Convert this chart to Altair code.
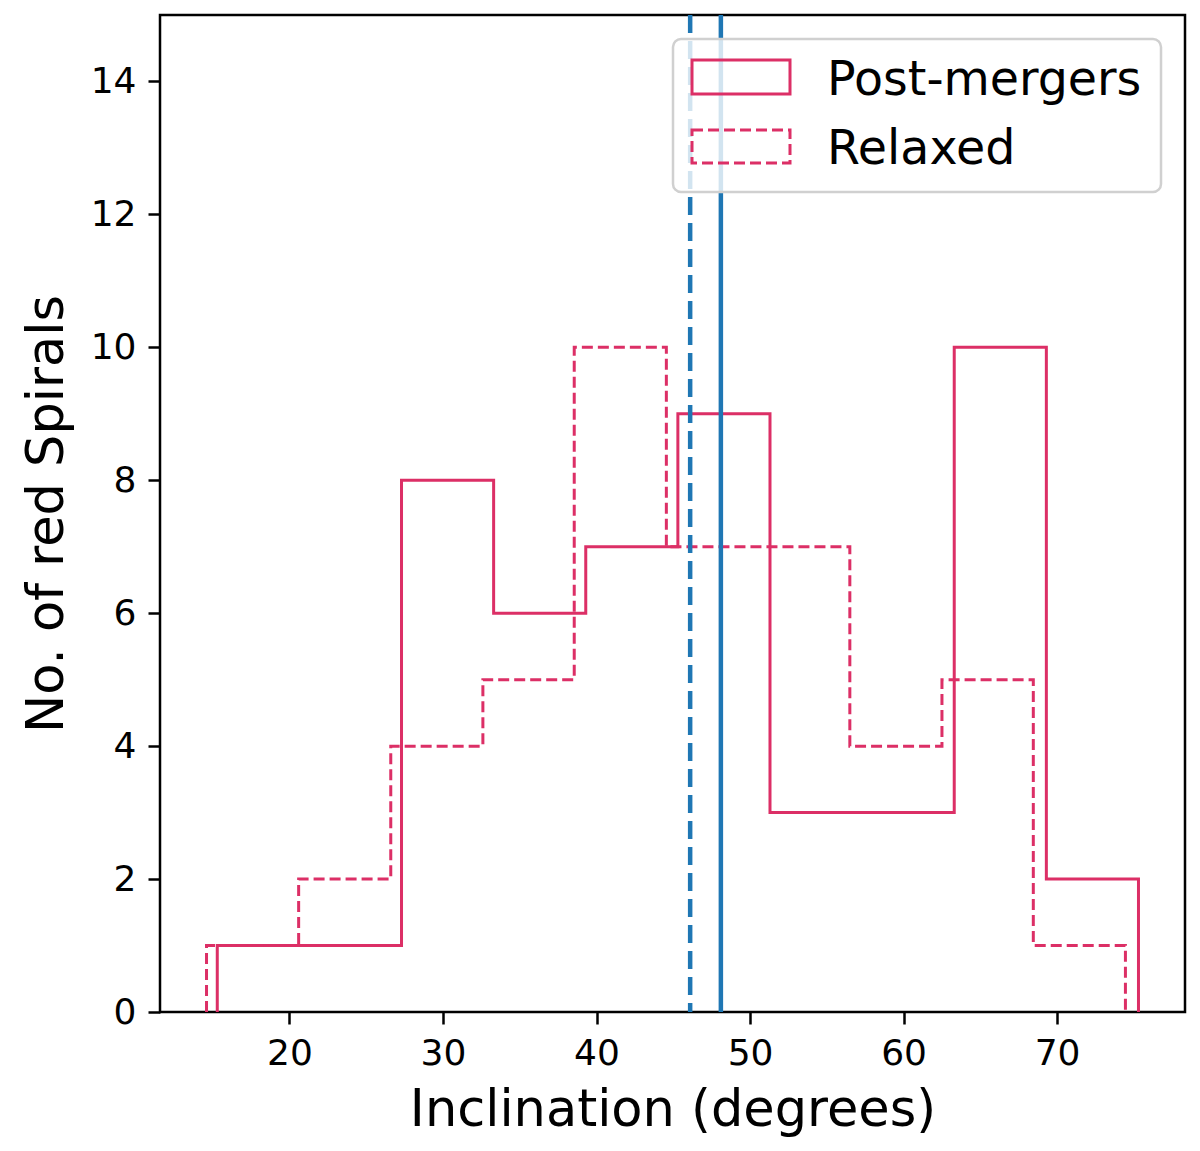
import altair as alt
import pandas as pd

# bin edges and counts
post_edges = [15.3, 21.3, 27.3, 33.3, 39.3, 45.3, 51.3, 57.3, 63.3, 69.3, 75.3]
post_counts = [1, 1, 8, 6, 7, 9, 3, 3, 10, 2]
relaxed_edges = [14.6, 20.6, 26.6, 32.6, 38.55, 44.55, 50.5, 56.5, 62.5, 68.45, 74.45]
relaxed_counts = [1, 2, 4, 5, 10, 7, 7, 4, 5, 1]

# median inclination of each sample (vertical lines)
median_post = [48.1]
median_relaxed = [46.1]

labels = ["Post-mergers", "Relaxed"]
x_ticks = [20, 30, 40, 50, 60, 70]
y_ticks = [0, 2, 4, 6, 8, 10, 12, 14]

PINK = "#dc2f66"
BLUE = "#1f77b4"
FONT = "DejaVu Sans"


def step_outline(edges, counts):
    # corners of a matplotlib histtype='step' outline
    rows = [{"x": edges[0], "y": 0}]
    for i, c in enumerate(counts):
        rows.append({"x": edges[i], "y": c})
        rows.append({"x": edges[i + 1], "y": c})
    rows.append({"x": edges[-1], "y": 0})
    df = pd.DataFrame(rows)
    df["i"] = range(len(df))
    return df


xs = alt.X("x:Q", scale=alt.Scale(domain=[11.57, 78.33], nice=False, zero=False),
           axis=alt.Axis(values=x_ticks, format="d", title="Inclination (degrees)"))
ys = alt.Y("y:Q", scale=alt.Scale(domain=[0, 15], nice=False),
           axis=alt.Axis(values=y_ticks, format="d", title="No. of red Spirals"))

post = alt.Chart(step_outline(post_edges, post_counts)).mark_line(
    color=PINK, strokeWidth=3, strokeJoin="miter", strokeCap="butt"
).encode(xs, ys, order="i:Q")

relaxed = alt.Chart(step_outline(relaxed_edges, relaxed_counts)).mark_line(
    color=PINK, strokeWidth=3, strokeJoin="miter", strokeCap="butt", strokeDash=[11, 5]
).encode(alt.X("x:Q"), alt.Y("y:Q"), order="i:Q")

vline_post = alt.Chart(pd.DataFrame({"x": median_post})).mark_rule(
    color=BLUE, strokeWidth=4.5
).encode(alt.X("x:Q"))

vline_relaxed = alt.Chart(pd.DataFrame({"x": median_relaxed})).mark_rule(
    color=BLUE, strokeWidth=4.5, strokeDash=[18, 8]
).encode(alt.X("x:Q"))

# legend drawn by hand (rectangle patches like matplotlib)
one = pd.DataFrame({"a": [0]})
legend_box = alt.Chart(one).mark_rect(
    fill="white", fillOpacity=0.8, stroke="#d0d0d0", strokeWidth=2.5, cornerRadius=8
).encode(x=alt.value(513), x2=alt.value(1001), y=alt.value(24), y2=alt.value(177))

patch_post = alt.Chart(one).mark_rect(
    fill="white", fillOpacity=0, stroke=PINK, strokeWidth=3
).encode(x=alt.value(532), x2=alt.value(630), y=alt.value(45), y2=alt.value(79))

patch_relaxed = alt.Chart(one).mark_rect(
    fill="white", fillOpacity=0, stroke=PINK, strokeWidth=3, strokeDash=[11, 5]
).encode(x=alt.value(532), x2=alt.value(630), y=alt.value(115), y2=alt.value(148))

text_post = alt.Chart(one).mark_text(
    text=labels[0], font=FONT, fontSize=47.5, align="left", baseline="alphabetic", color="black"
).encode(x=alt.value(667), y=alt.value(80))

text_relaxed = alt.Chart(one).mark_text(
    text=labels[1], font=FONT, fontSize=47.5, align="left", baseline="alphabetic", color="black"
).encode(x=alt.value(667), y=alt.value(149))

chart = alt.layer(
    post, relaxed, vline_post, vline_relaxed,
    legend_box, patch_post, patch_relaxed, text_post, text_relaxed
).properties(
    width=1025, height=997,
    autosize=alt.AutoSizeParams(type="none"),
    padding={"left": 152, "top": 7, "right": 7, "bottom": 131},
).configure_view(
    stroke="black", strokeWidth=2.5
).configure_axis(
    grid=False, domain=False,
    tickSize=12, tickWidth=2.5, tickColor="black",
    labelFont=FONT, labelFontSize=36, labelColor="black", labelPadding=12,
    titleFont=FONT, titleFontSize=51, titleFontWeight="normal", titleColor="black",
).configure_axisY(
    titlePadding=17
).configure_axisX(
    titlePadding=14
)

chart.save("out.html", embed_options={"renderer": "svg", "actions": False})
